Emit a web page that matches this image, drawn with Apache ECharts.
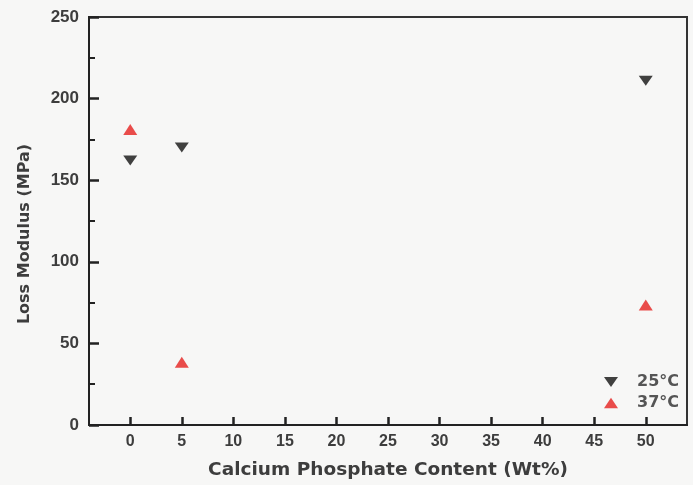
<!DOCTYPE html>
<html><head><meta charset="utf-8">
<script src="https://cdn.jsdelivr.net/npm/echarts@6/dist/echarts.min.js"></script>
<style>html,body{margin:0;padding:0;background:#f7f7f6}#c{width:693px;height:485px}</style>
</head><body><div id="c"></div>
<script>
const xTicks = [0, 5, 10, 15, 20, 25, 30, 35, 40, 45, 50];
const content = [0, 5, 50];
const loss25 = [162, 170, 211];
const loss37 = [181, 38.5, 73.5];
const seriesNames = ['25°C', '37°C'];

const down = 'path://M0,0L10,0L5,7Z';
const up = 'path://M5,0L10,7.5L0,7.5Z';
const lib = {fontFamily: 'Liberation Sans, Arial, sans-serif', fontWeight: 'bold', color: '#3d3d3d'};
const dv = {fontFamily: 'DejaVu Sans, sans-serif', fontWeight: 'bold', color: '#3d3d3d'};

const chart = echarts.init(document.getElementById('c'));
chart.setOption({
  backgroundColor: '#f7f7f6',
  animation: false,
  grid: {left: 89, top: 17, right: 6, bottom: 58, show: true, borderColor: '#333', borderWidth: 2, backgroundColor: 'transparent'},
  legend: {
    orient: 'vertical', right: 9, top: 368, itemGap: 3, itemWidth: 14, itemHeight: 11,
    textStyle: Object.assign({}, dv, {fontSize: 16, color: '#555', lineHeight: 18, padding: [0, 0, 0, 14]}),
    data: [{name: seriesNames[0], icon: down}, {name: seriesNames[1], icon: up}]
  },
  xAxis: {
    type: 'value', min: -4, max: 54,
    name: 'Calcium Phosphate Content (Wt%)', nameLocation: 'middle', nameGap: 36,
    nameTextStyle: Object.assign({}, dv, {fontSize: 18.5}),
    axisLine: {onZero: false, lineStyle: {color: '#222', width: 2}},
    axisTick: {show: true, inside: true, length: 8, lineStyle: {color: '#222', width: 2.5}, customValues: xTicks},
    axisLabel: Object.assign({}, lib, {fontSize: 16, margin: 9, customValues: xTicks}),
    splitLine: {show: false}
  },
  yAxis: {
    type: 'value', min: 0, max: 250, interval: 50,
    name: 'Loss Modulus (MPa)', nameLocation: 'middle', nameGap: 56, nameRotate: 90,
    nameTextStyle: Object.assign({}, dv, {fontSize: 16, padding: [0, 26, 0, 0]}),
    axisLine: {onZero: false, lineStyle: {color: '#222', width: 2}},
    axisTick: {show: true, inside: true, length: 10, lineStyle: {color: '#222', width: 2.5}},
    minorTick: {show: true, splitNumber: 2, length: 6, lineStyle: {color: '#222', width: 2}},
    axisLabel: Object.assign({}, lib, {fontSize: 17, margin: 10}),
    splitLine: {show: false}
  },
  series: [
    {name: seriesNames[0], type: 'scatter', symbol: down, symbolSize: [14, 10],
     itemStyle: {color: '#111'}, data: content.map((x, i) => [x, loss25[i]])},
    {name: seriesNames[1], type: 'scatter', symbol: up, symbolSize: [14, 11],
     itemStyle: {color: '#e5201f'}, data: content.map((x, i) => [x, loss37[i]])}
  ]
});
</script></body></html>
